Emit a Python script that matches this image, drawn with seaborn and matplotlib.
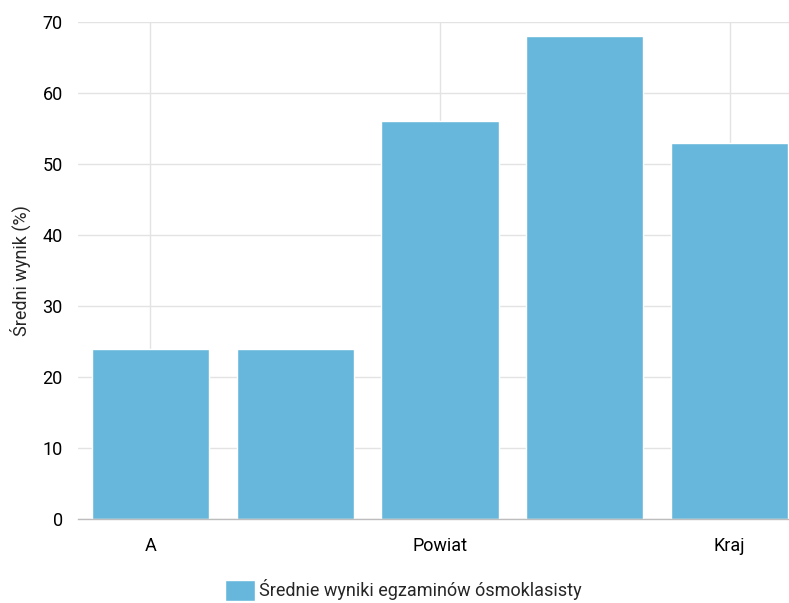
import pandas as pd
import matplotlib.pyplot as plt
import seaborn as sns

# Data
categories = ["A", "B", "Powiat", "Województwo", "Kraj"]
scores = [24, 24, 56, 68, 53]
shown_labels = ["A", "", "Powiat", "", "Kraj"]
series_name = "Średnie wyniki egzaminów ósmoklasisty"

df = pd.DataFrame({"kategoria": categories, "wynik": scores})

sns.set_theme(style="white")
plt.rcParams['font.family'] = ['Roboto', 'DejaVu Sans']

bar_color = "#67b7dc"
grid_color = "#e3e3e3"

fig = plt.figure(figsize=(7.89, 6.03), dpi=100)
ax = fig.add_axes([0.0989, 0.1393, 0.9011, 0.8242])

sns.barplot(data=df, x="kategoria", y="wynik", color=bar_color, width=0.81,
            saturation=1, ax=ax, label=series_name, zorder=2)

ax.set_xlim(-0.5, 4.41)
ax.set_ylim(0, 70)
ax.set_yticks(range(0, 71, 10))
ax.set_xticks(range(len(categories)))
ax.set_xticklabels(shown_labels)

# horizontal grid everywhere, vertical grid only at labelled categories
ax.grid(axis="y", color=grid_color, linewidth=1, zorder=0)
for i, lab in enumerate(shown_labels):
    if lab:
        ax.axvline(i, color=grid_color, linewidth=1, zorder=0)

for side in ["top", "right", "left"]:
    ax.spines[side].set_visible(False)
ax.spines["bottom"].set_color("#bdbdbd")
ax.spines["bottom"].set_linewidth(1)

ax.tick_params(axis="both", length=0, labelsize=13, colors="#000000")
ax.tick_params(axis="y", pad=11)
ax.tick_params(axis="x", pad=13)
ax.set_xlabel("")
ax.set_ylabel("Średni wynik (%)", fontsize=13, labelpad=8)

leg = ax.legend(loc="center", bbox_to_anchor=(0.458, -0.143), frameon=False,
                fontsize=13, handlelength=1.65, handleheight=1.4, handletextpad=0.25)

fig.savefig("out.png", dpi=100)
